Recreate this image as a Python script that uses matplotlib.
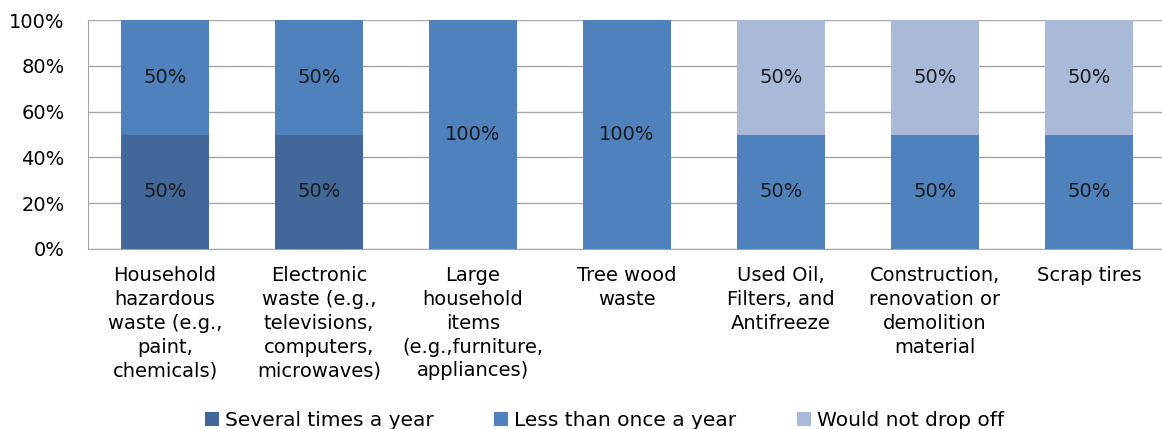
import numpy as np
import matplotlib.pyplot as plt
from matplotlib.ticker import PercentFormatter

categories = ["Household\nhazardous\nwaste (e.g.,\npaint,\nchemicals)",
              "Electronic\nwaste (e.g.,\ntelevisions,\ncomputers,\nmicrowaves)",
              "Large\nhousehold\nitems\n(e.g.,furniture,\nappliances)",
              "Tree wood\nwaste",
              "Used Oil,\nFilters, and\nAntifreeze",
              "Construction,\nrenovation or\ndemolition\nmaterial",
              "Scrap tires"]
series_names = ["Several times a year", "Less than once a year", "Would not drop off"]
several = [50, 50, 0, 0, 0, 0, 0]
less = [50, 50, 100, 100, 50, 50, 50]
wouldnot = [0, 0, 0, 0, 50, 50, 50]
colors = ["#426899", "#4F81BD", "#A9BAD8"]

plt.rcParams['font.family'] = ['DejaVu Sans']
fig = plt.figure(figsize=(11.62, 4.29), dpi=100)
ax = fig.add_axes([88 / 1162, 1 - 249 / 429, (1166 - 88) / 1162, (249 - 20) / 429])

x = np.arange(len(categories))
bottom = np.zeros(len(categories))
for name, vals, c in zip(series_names, [several, less, wouldnot], colors):
    vals = np.array(vals, dtype=float)
    ax.bar(x, vals, 0.57, bottom=bottom, color=c, label=name, zorder=3)
    for xi, v, b in zip(x, vals, bottom):
        if v > 0:
            ax.text(xi, b + v / 2, f"{v:.0f}%", ha='center', va='center',
                    fontsize=14, color='#1a1a1a', zorder=4)
    bottom += vals

ax.set_xlim(-0.5, len(categories) - 0.5)
ax.set_ylim(0, 100)
ax.set_yticks(np.arange(0, 101, 20))
ax.yaxis.set_major_formatter(PercentFormatter(decimals=0))
ax.grid(axis='y', color='#a6a6a6', lw=1, zorder=0)
ax.set_xticks(x)
ax.set_xticklabels(categories, fontsize=14, linespacing=1.33, va='top')
ax.tick_params(axis='x', length=0, pad=12)
ax.tick_params(axis='y', length=0, labelsize=14, pad=17)
for s in ['top', 'right']:
    ax.spines[s].set_visible(False)
for s in ['left', 'bottom']:
    ax.spines[s].set_color('#a6a6a6')

fig.legend(loc='lower center', bbox_to_anchor=(0.52, -0.045), ncol=3, frameon=False,
           fontsize=14.5, handlelength=0.7, handleheight=0.7, columnspacing=3,
           handletextpad=0.3)

fig.savefig("out.png", dpi=100)
